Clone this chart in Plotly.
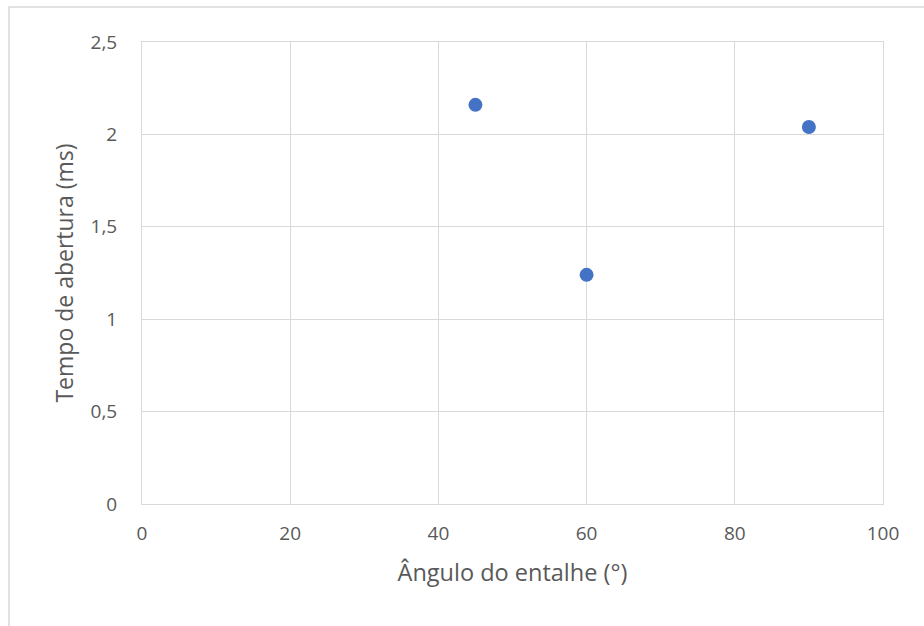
import plotly.graph_objects as go

# Notch angle (degrees) vs. opening time (ms)
angulo = [45, 60, 90]
tempo = [2.16, 1.24, 2.04]

x_ticks = [0, 20, 40, 60, 80, 100]
y_ticks = [0, 0.5, 1, 1.5, 2, 2.5]

font_family = "'Open Sans', sans-serif"
text_color = "#595959"
grid_color = "#d9d9d9"

fig = go.Figure(
    go.Scatter(
        x=angulo,
        y=tempo,
        mode="markers",
        marker=dict(color="#4472C4", size=14, line=dict(width=0)),
        showlegend=False,
    )
)

fig.update_layout(
    width=924,
    height=626,
    margin=dict(l=142, r=41, t=42, b=122),
    paper_bgcolor="white",
    plot_bgcolor="white",
    separators=",.",
    font=dict(family=font_family, color=text_color, size=19),
    shapes=[
        dict(
            type="rect",
            xref="paper",
            yref="paper",
            x0=-0.1795,
            x1=1.2,
            y0=-0.5,
            y1=1.0755,
            line=dict(color=grid_color, width=1.5),
            fillcolor="rgba(0,0,0,0)",
            layer="below",
        )
    ],
)

fig.update_xaxes(
    range=[0, 100],
    tickvals=x_ticks,
    showgrid=True,
    gridcolor=grid_color,
    gridwidth=1,
    zeroline=False,
    showline=True,
    linecolor=grid_color,
    linewidth=1,
    mirror=True,
    ticks="",
    ticklabelstandoff=12,
    tickfont=dict(size=19, color=text_color),
    title=dict(text="Ângulo do entalhe (°)", font=dict(size=23.5, color=text_color), standoff=19),
)

fig.update_yaxes(
    range=[0, 2.5],
    tickvals=y_ticks,
    showgrid=True,
    gridcolor=grid_color,
    gridwidth=1,
    zeroline=False,
    showline=True,
    linecolor=grid_color,
    linewidth=1,
    mirror=True,
    ticks="",
    ticklabelstandoff=20,
    tickfont=dict(size=19, color=text_color),
    title=dict(text="Tempo de abertura (ms)", font=dict(size=23, color=text_color), standoff=10),
)

fig.write_html("out.html")
